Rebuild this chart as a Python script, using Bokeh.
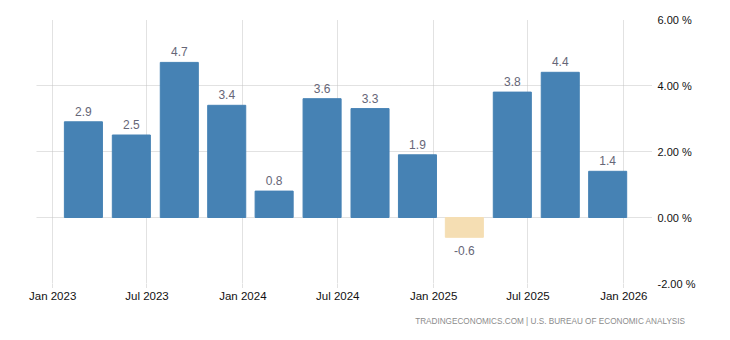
from datetime import datetime
from bokeh.plotting import figure
from bokeh.models import (ColumnDataSource, Range1d, LinearAxis, FixedTicker,
                          PrintfTickFormatter, DatetimeTickFormatter, MonthsTicker, Title)
from bokeh.core.properties import value
from bokeh.embed import file_html
from bokeh.resources import INLINE

# ---- data (quarterly GDP growth, annualized %) ----
quarters = ["2023-03-01", "2023-06-01", "2023-09-01", "2023-12-01",
            "2024-03-01", "2024-06-01", "2024-09-01", "2024-12-01",
            "2025-03-01", "2025-06-01", "2025-09-01", "2025-12-01"]
values = [2.9, 2.5, 4.7, 3.4, 0.8, 3.6, 3.3, 1.9, -0.6, 3.8, 4.4, 1.4]
y_ticks = [-2, 0, 2, 4, 6]
source_text = "TRADINGECONOMICS.COM | U.S. BUREAU OF ECONOMIC ANALYSIS"

POS_COLOR = "#4682B4"
NEG_COLOR = "#F5DEB3"

dates = [datetime.strptime(q, "%Y-%m-%d") for q in quarters]
colors = [POS_COLOR if v >= 0 else NEG_COLOR for v in values]
labels = [f"{v:.1f}" for v in values]

src = ColumnDataSource(dict(x=dates, top=values, color=colors, label=labels))
pos = ColumnDataSource(dict(x=[d for d, v in zip(dates, values) if v >= 0],
                            y=[v for v in values if v >= 0],
                            label=[l for l, v in zip(labels, values) if v >= 0]))
neg = ColumnDataSource(dict(x=[d for d, v in zip(dates, values) if v < 0],
                            y=[v for v in values if v < 0],
                            label=[l for l, v in zip(labels, values) if v < 0]))

p = figure(width=730, height=340, x_axis_type="datetime",
           x_range=Range1d(datetime(2022, 12, 1), datetime(2026, 2, 25)),
           y_range=Range1d(-2, 6),
           output_backend="svg", toolbar_location=None,
           y_axis_location=None,
           min_border_left=36, min_border_right=78,
           min_border_top=19, min_border_bottom=57)
p.outline_line_color = None
p.background_fill_color = "white"
p.border_fill_color = "white"

DAY_MS = 86400000
p.vbar(x="x", top="top", bottom=0, width=73 * DAY_MS, color="color", source=src)

p.text(x="x", y="y", text="label", source=pos, text_align="center",
       text_baseline="bottom", y_offset=-6, text_font=value("Liberation Sans"),
       text_font_size="12px", text_color="#666677")
p.text(x="x", y="y", text="label", source=neg, text_align="center",
       text_baseline="top", y_offset=9, text_font=value("Liberation Sans"),
       text_font_size="12px", text_color="#666677")

# x axis
xa = p.xaxis[0]
xa.ticker = MonthsTicker(months=[0, 6])
xa.formatter = DatetimeTickFormatter(months="%b %Y", years="%b %Y", days="%b %Y")
xa.axis_line_color = None
xa.major_tick_line_color = "#c4c4c4"
xa.major_tick_line_dash = "1 1"
xa.major_tick_out = 4
xa.major_tick_in = 0
xa.minor_tick_line_color = None
xa.major_label_standoff = 2
xa.major_label_text_font = "Liberation Sans"
xa.major_label_text_font_size = "11.5px"
xa.major_label_text_color = "#111111"

# y axis on the right
ya = LinearAxis(ticker=FixedTicker(ticks=y_ticks),
                formatter=PrintfTickFormatter(format="%.2f %%"))
ya.axis_line_color = None
ya.major_tick_line_color = None
ya.minor_tick_line_color = None
ya.major_tick_out = 0
ya.major_label_standoff = 5
ya.major_label_text_font = "Liberation Sans"
ya.major_label_text_font_size = "11px"
ya.major_label_text_color = "#111111"
p.add_layout(ya, "right")

p.xgrid.ticker = MonthsTicker(months=[0, 6])
p.xgrid.grid_line_color = "#c4c4c4"
p.xgrid.grid_line_dash = "1 1"
p.ygrid.ticker = FixedTicker(ticks=y_ticks)
p.ygrid.grid_line_color = "#c4c4c4"
p.ygrid.grid_line_dash = "1 1"

t = Title(text=source_text, align="right", text_font="Liberation Sans",
          text_font_size="8.2px", text_color="#8c8c8c", text_font_style="normal",
          offset=-33, standoff=21)
p.add_layout(t, "below")

open("out.html", "w").write(file_html(p, INLINE))
